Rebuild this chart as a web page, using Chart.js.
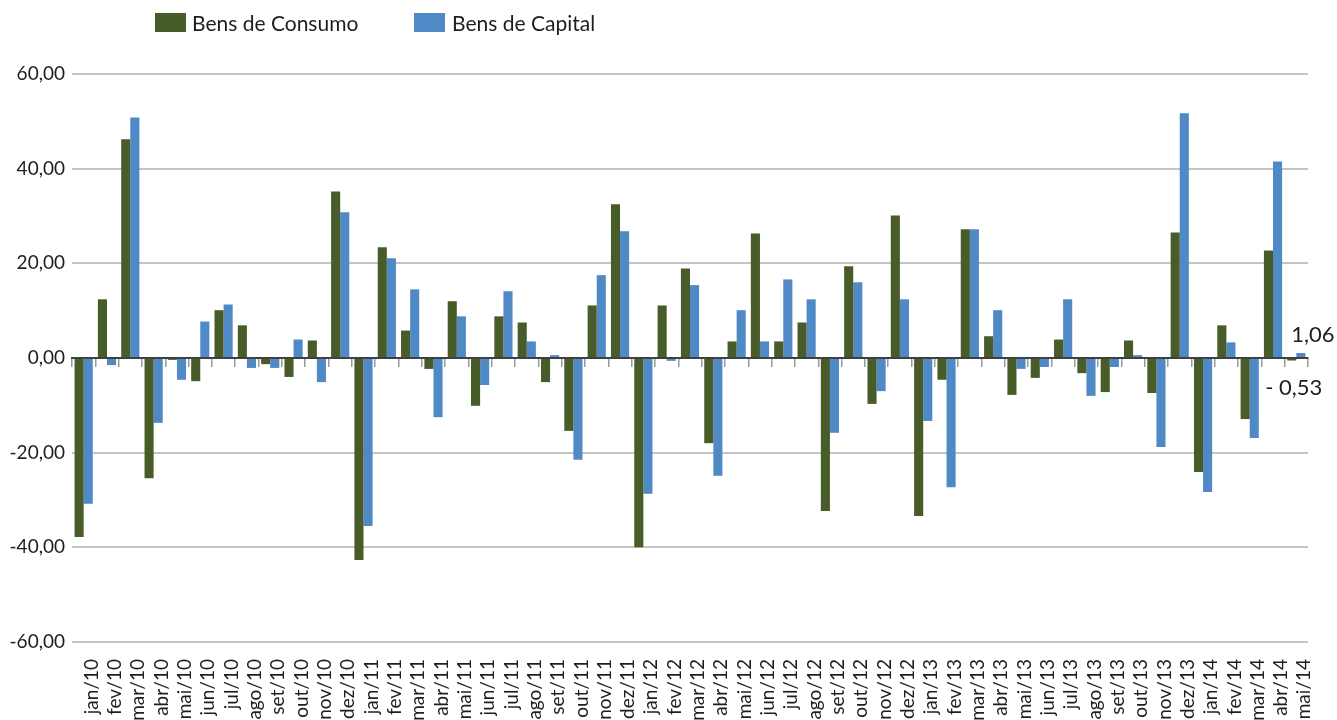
<!DOCTYPE html>
<html>
<head>
<meta charset="utf-8">
<script src="https://cdn.jsdelivr.net/npm/chart.js@4/dist/chart.umd.min.js"></script>
<style>
  html, body { margin: 0; padding: 0; background: #fff; }
  #wrap { position: relative; width: 1337px; height: 720px; }
  canvas { position: absolute; left: 0; top: 0; }
  .lg { position: absolute; font-family: Lato, sans-serif; font-size: 21px; color: #1e1e1e; line-height: 21px; white-space: nowrap; }
  .sw { position: absolute; width: 31px; height: 19px; }
</style>
</head>
<body>
<div id="wrap">
  <canvas id="c" width="1337" height="720"></canvas>
  <div class="sw" style="left:155px;top:13px;background:#485C2A"></div>
  <div class="lg" style="left:192px;top:12px">Bens de Consumo</div>
  <div class="sw" style="left:414px;top:13px;background:#4F89C6"></div>
  <div class="lg" style="left:452px;top:12px">Bens de Capital</div>
</div>
<script>
const categories = [
  'jan/10','fev/10','mar/10','abr/10','mai/10','jun/10','jul/10','ago/10','set/10','out/10','nov/10','dez/10',
  'jan/11','fev/11','mar/11','abr/11','mai/11','jun/11','jul/11','ago/11','set/11','out/11','nov/11','dez/11',
  'jan/12','fev/12','mar/12','abr/12','mai/12','jun/12','jul/12','ago/12','set/12','out/12','nov/12','dez/12',
  'jan/13','fev/13','mar/13','abr/13','mai/13','jun/13','jul/13','ago/13','set/13','out/13','nov/13','dez/13',
  'jan/14','fev/14','mar/14','abr/14','mai/14'
];
const bensConsumo = [
  -37.8, 12.4, 46.2, -25.4, -0.4, -4.9, 10.1, 6.9, -1.3, -4.0, 3.7, 35.2,
  -42.7, 23.4, 5.8, -2.3, 12.0, -10.1, 8.8, 7.5, -5.1, -15.4, 11.1, 32.5,
  -40.0, 11.1, 18.9, -18.0, 3.5, 26.3, 3.5, 7.5, -32.3, 19.4, -9.7, 30.1,
  -33.4, -4.6, 27.2, 4.6, -7.8, -4.2, 3.9, -3.2, -7.2, 3.7, -7.4, 26.5,
  -24.1, 6.9, -12.9, 22.7, -0.53
];
const bensCapital = [
  -30.8, -1.5, 50.8, -13.7, -4.6, 7.7, 11.3, -2.1, -2.1, 3.9, -5.1, 30.8,
  -35.5, 21.1, 14.5, -12.5, 8.8, -5.7, 14.1, 3.5, 0.6, -21.5, 17.5, 26.8,
  -28.7, -0.6, 15.4, -24.9, 10.1, 3.5, 16.6, 12.4, -15.8, 16.0, -7.0, 12.4,
  -13.3, -27.3, 27.2, 10.1, -2.3, -1.9, 12.4, -8.0, -1.9, 0.6, -18.8, 51.7,
  -28.3, 3.3, -16.9, 41.5, 1.06
];
const yTicks = [-60, -40, -20, 0, 20, 40, 60];

function fmt(v) { return v.toFixed(2).replace('.', ','); }
function fmtLabel(v) { return v < 0 ? '- ' + fmt(Math.abs(v)) : fmt(v); }

const endLabels = {
  id: 'endLabels',
  afterDatasetsDraw(chart) {
    const ctx = chart.ctx;
    ctx.save();
    ctx.font = '22px Lato, sans-serif';
    ctx.fillStyle = '#1e1e1e';
    ctx.textAlign = 'center';
    ctx.textBaseline = 'middle';
    const last = categories.length - 1;
    const mCap = chart.getDatasetMeta(1).data[last];
    ctx.fillText(fmtLabel(bensCapital[last]), mCap.x + 12, mCap.y - 18);
    const mCon = chart.getDatasetMeta(0).data[last];
    ctx.fillText(fmtLabel(bensConsumo[last]), mCon.x + 2, mCon.y + 27);
    ctx.restore();
  }
};

new Chart(document.getElementById('c'), {
  type: 'bar',
  data: {
    labels: categories,
    datasets: [
      { label: 'Bens de Consumo', data: bensConsumo, backgroundColor: '#485C2A',
        categoryPercentage: 0.78, barPercentage: 1.0 },
      { label: 'Bens de Capital', data: bensCapital, backgroundColor: '#4F89C6',
        categoryPercentage: 0.78, barPercentage: 1.0 }
    ]
  },
  options: {
    responsive: false,
    animation: false,
    layout: { padding: { top: 74, right: 29, left: 0, bottom: 0 } },
    plugins: { legend: { display: false }, tooltip: { enabled: false } },
    scales: {
      x: {
        type: 'category',
        offset: true,
        grid: { display: false, drawTicks: false },
        border: { display: false },
        ticks: {
          autoSkip: false, maxRotation: 90, minRotation: 90, padding: 17, labelOffset: 8,
          color: '#1e1e1e', font: { family: 'Lato, sans-serif', size: 19 }
        },
        afterFit: s => { s.height = 78; }
      },
      x2: {
        type: 'category',
        axis: 'x',
        position: { y: 0 },
        offset: true,
        z: 1,
        grid: { offset: true, drawOnChartArea: false, drawTicks: true, tickLength: 8, color: '#9A9A9A', lineWidth: 1.5, z: 1 },
        border: { display: true, color: '#404040', width: 2, z: 1 },
        ticks: { display: false }
      },
      y: {
        min: -60, max: 60,
        afterBuildTicks: s => { s.ticks = yTicks.map(v => ({ value: v })); },
        grid: {
          drawTicks: false, lineWidth: 2,
          color: c => c.tick && c.tick.value === 0 ? '#404040' : '#C4C4C4'
        },
        border: { display: false },
        ticks: {
          padding: 7, color: '#1e1e1e', font: { family: 'Lato, sans-serif', size: 19 },
          callback: v => fmt(v)
        },
        afterFit: s => { s.width = 72; }
      }
    }
  },
  plugins: [endLabels]
});
</script>
</body>
</html>
